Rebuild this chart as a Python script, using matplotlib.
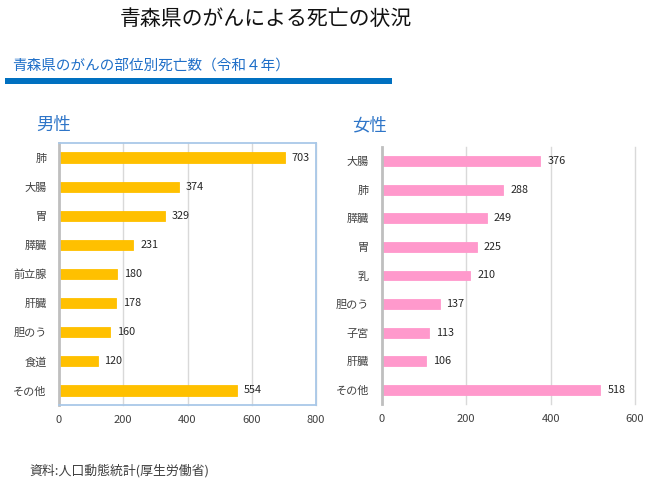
import matplotlib
matplotlib.use("Agg")
import matplotlib.pyplot as plt
from matplotlib.patches import Rectangle

plt.rcParams['font.family'] = ['Noto Sans CJK JP', 'DejaVu Sans']

male_sites = ["肺", "大腸", "胃", "膵臓", "前立腺", "肝臓", "胆のう", "食道", "その他"]
male_values = [703, 374, 329, 231, 180, 178, 160, 120, 554]
female_sites = ["大腸", "肺", "膵臓", "胃", "乳", "胆のう", "子宮", "肝臓", "その他"]
female_values = [376, 288, 249, 225, 210, 137, 113, 106, 518]
male_ticks = [0, 200, 400, 600, 800]
female_ticks = [0, 200, 400, 600]

title = "青森県のがんによる死亡の状況"
subtitle = "青森県のがんの部位別死亡数（令和４年）"
source = "資料:人口動態統計(厚生労働省)"

W, H = 653, 482
fig = plt.figure(figsize=(W / 100, H / 100), dpi=100)
fig.patch.set_facecolor("white")

def px_axes(left, right, top, bottom):
    return fig.add_axes([left / W, (H - bottom) / H, (right - left) / W, (bottom - top) / H])

def draw(ax, sites, values, ticks, color, boxed):
    n = len(sites)
    ypos = list(range(n))
    ax.barh(ypos, values, height=0.35, color=color, edgecolor=color, linewidth=0.6, zorder=3)
    ax.set_ylim(n - 0.5, -0.5)
    ax.set_xlim(ticks[0], ticks[-1])
    ax.set_yticks(ypos)
    ax.set_yticklabels(sites, fontsize=8, color="#404040")
    ax.set_xticks(ticks)
    ax.set_xticklabels([str(t) for t in ticks], fontsize=8, color="#404040")
    ax.tick_params(axis="y", length=0, pad=9)
    ax.tick_params(axis="x", length=0, pad=7)
    for t in ticks[1:]:
        ax.axvline(t, color="#D9D9D9", linewidth=1.0, zorder=0, clip_on=False)
    for y, v in zip(ypos, values):
        ax.annotate(str(v), (v, y), xytext=(5, 0), textcoords="offset points",
                    va="center", ha="left", fontsize=7.8, color="#262626")
    ax.spines["left"].set_color("#BFBFBF")
    ax.spines["left"].set_linewidth(2.0)
    ax.spines["left"].set_zorder(4)
    if boxed:
        for s in ("top", "right", "bottom"):
            ax.spines[s].set_color("#A9C8E8")
            ax.spines[s].set_linewidth(1.3)
            ax.spines[s].set_zorder(5)
    else:
        for s in ("top", "right", "bottom"):
            ax.spines[s].set_visible(False)
    ax.set_facecolor("none")

ax1 = px_axes(59, 316, 143, 405)
draw(ax1, male_sites, male_values, male_ticks, "#FFC000", True)

ax2 = px_axes(381.7, 635, 147, 404)
draw(ax2, female_sites, female_values, female_ticks, "#FF99CC", False)

fig.text(266 / W, 1 - 19 / H, title, ha="center", va="center", fontsize=15, color="#111111")
fig.text(12 / W, 1 - 66 / H, subtitle, ha="left", va="center", fontsize=10.5, color="#1F6FC8")
fig.add_artist(Rectangle((5 / W, 1 - 84 / H), (392 - 5) / W, 6 / H,
                         transform=fig.transFigure, facecolor="#0070C0", edgecolor="none"))
fig.text(36 / W, 1 - 125 / H, "男性", ha="left", va="center", fontsize=12.5, color="#2E75C8")
fig.text(352 / W, 1 - 125 / H, "女性", ha="left", va="center", fontsize=12.5, color="#2E75C8")
fig.text(29 / W, 1 - 471 / H, source, ha="left", va="center", fontsize=9.3, color="#404040")

fig.savefig("out.png", dpi=100)
